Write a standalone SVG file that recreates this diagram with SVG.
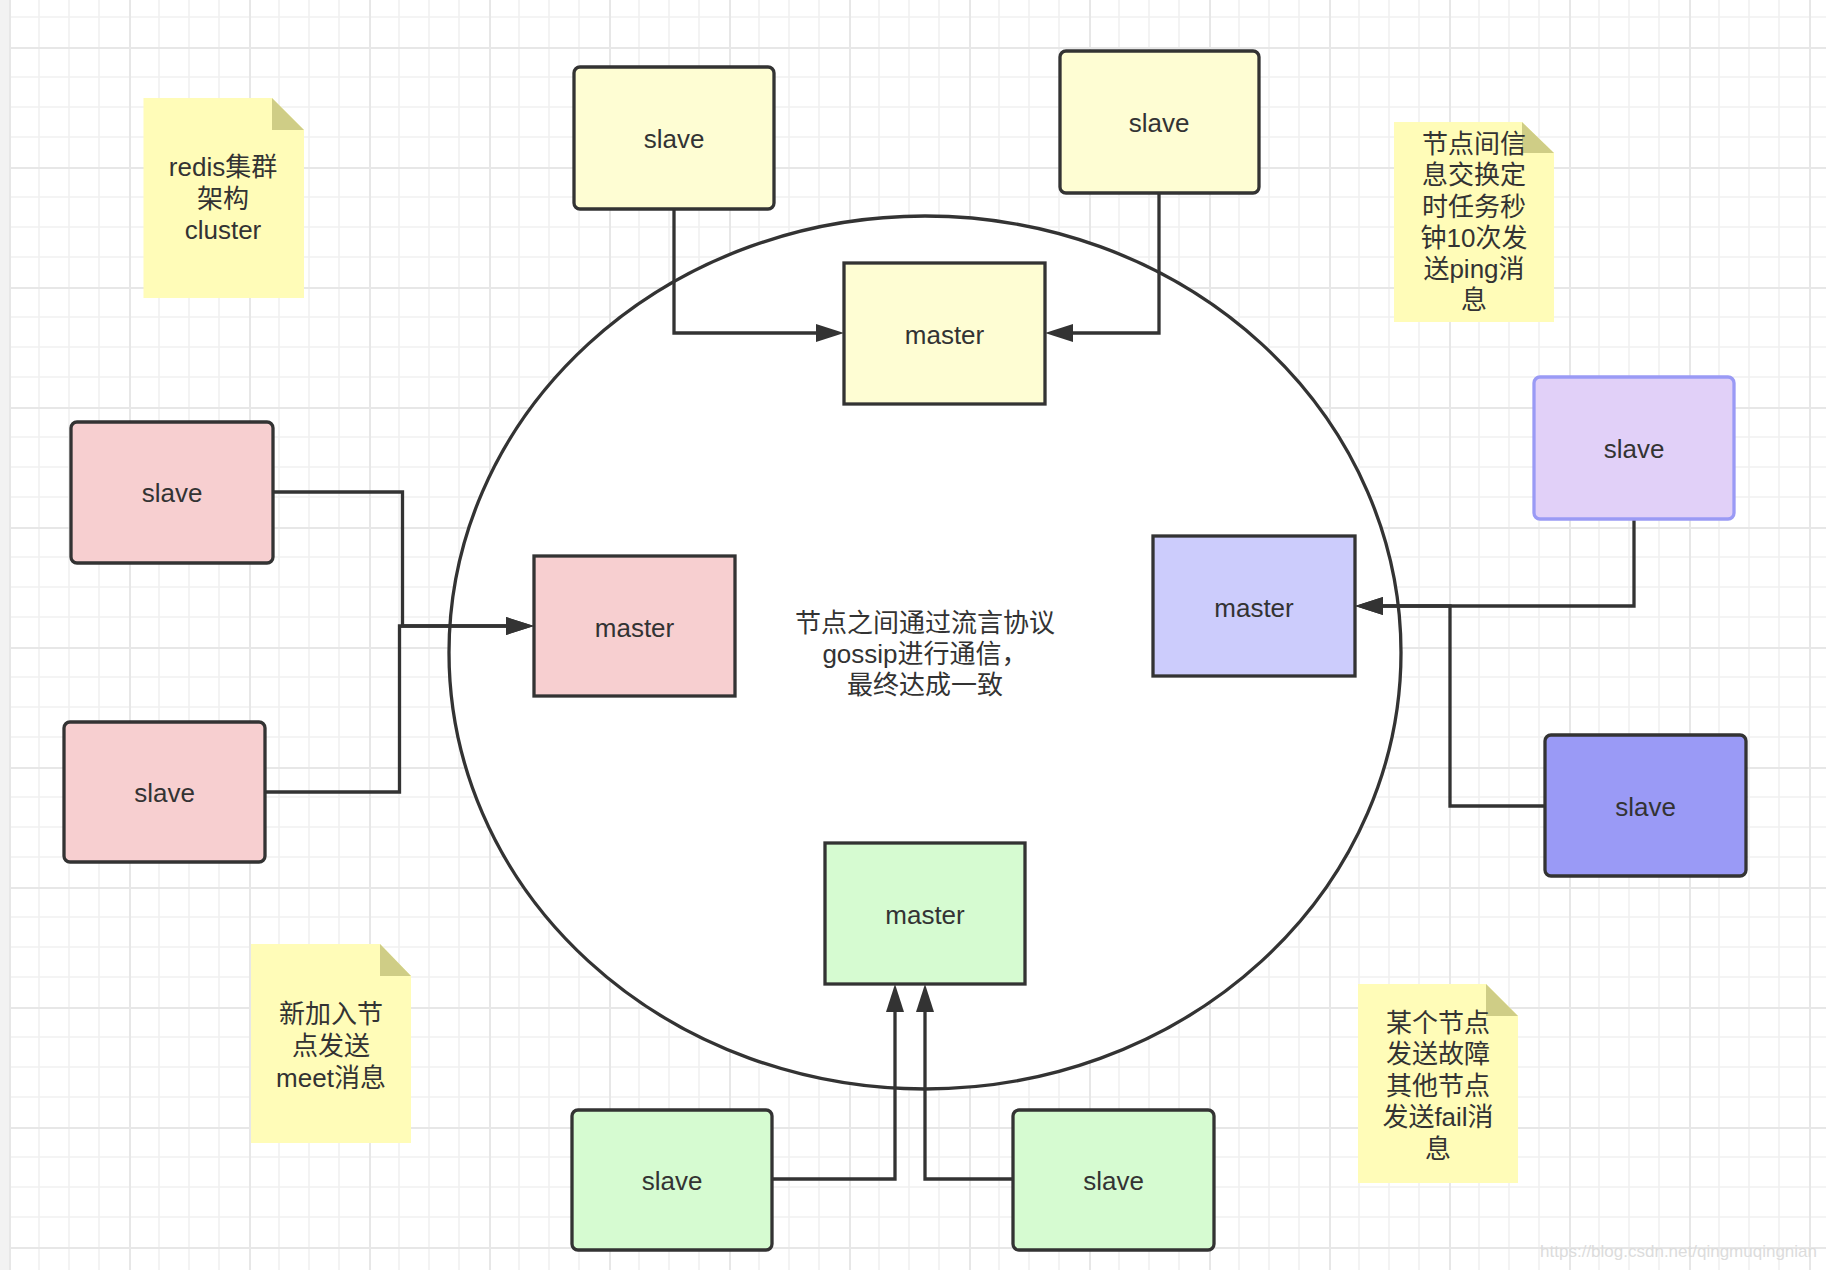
<svg xmlns="http://www.w3.org/2000/svg" width="1826" height="1270" viewBox="0 0 1826 1270">
<defs>
<pattern id="grid" patternUnits="userSpaceOnUse" x="9" y="47" width="120" height="120">
<rect width="120" height="120" fill="#ffffff"/>
<path d="M30,0V120M60,0V120M90,0V120M0,30H120M0,60H120M0,90H120" stroke="#f1f1f1" stroke-width="1.6" fill="none"/>
<path d="M1,0V120M0,1H120" stroke="#e7e7e7" stroke-width="2" fill="none"/>
</pattern>
<marker id="arr" markerUnits="userSpaceOnUse" markerWidth="28" markerHeight="18" refX="0" refY="9" orient="auto" viewBox="0 0 28 18">
<path d="M0,0L28,9L0,18z" fill="#333333"/>
</marker>
<style>
.t{font-family:"Liberation Sans","Noto Sans CJK SC",sans-serif;font-size:26px;fill:#333333;text-anchor:middle}
.box{stroke:#333333;stroke-width:3.3}
.note{fill:#fffcb8}
.fold{fill:#cfcd86}
.c{fill:none;stroke:#333333;stroke-width:3.3}
</style>
</defs>
<rect width="1826" height="1270" fill="url(#grid)"/>
<rect x="0" y="0" width="9" height="1270" fill="#f2f2f2"/>

<ellipse id="cluster-ring" cx="925" cy="652.5" rx="476" ry="436.5" fill="#ffffff" stroke="#333333" stroke-width="3.3"/>

<g id="note-cluster">
<path class="note" d="M143.5,98H272L304,130V298H143.5z"/>
<path class="fold" d="M272,98L304,130H272z"/>
<text class="t" x="223" y="176">redis集群</text>
<text class="t" x="223" y="208">架构</text>
<text class="t" x="223" y="239">cluster</text>
</g>

<g id="note-ping">
<path class="note" d="M1394,122H1522L1554,153V322H1394z"/>
<path class="fold" d="M1522,122L1554,153H1522z"/>
<text class="t" x="1474" y="153">节点间信</text>
<text class="t" x="1474" y="184">息交换定</text>
<text class="t" x="1474" y="216">时任务秒</text>
<text class="t" x="1474" y="247">钟10次发</text>
<text class="t" x="1474" y="278">送ping消</text>
<text class="t" x="1474" y="309">息</text>
</g>

<g id="note-meet">
<path class="note" d="M251,944H380L411,976V1143H251z"/>
<path class="fold" d="M380,944L411,976H380z"/>
<text class="t" x="331" y="1023">新加入节</text>
<text class="t" x="331" y="1055">点发送</text>
<text class="t" x="331" y="1087">meet消息</text>
</g>

<g id="note-fail">
<path class="note" d="M1358,984H1486L1518,1016V1183H1358z"/>
<path class="fold" d="M1486,984L1518,1016H1486z"/>
<text class="t" x="1438" y="1032">某个节点</text>
<text class="t" x="1438" y="1063">发送故障</text>
<text class="t" x="1438" y="1095">其他节点</text>
<text class="t" x="1438" y="1126">发送fail消</text>
<text class="t" x="1438" y="1158">息</text>
</g>

<g id="gossip-label">
<text class="t" x="925" y="632">节点之间通过流言协议</text>
<text class="t" x="925" y="663">gossip进行通信，</text>
<text class="t" x="925" y="694">最终达成一致</text>
</g>

<g id="connectors">
<path class="c" d="M674,209V333H816" marker-end="url(#arr)"/>
<path class="c" d="M1159,193V333H1073" marker-end="url(#arr)"/>
<path class="c" d="M273,492H402.5V626H506" marker-end="url(#arr)"/>
<path class="c" d="M265,792H399.5V626H506" marker-end="url(#arr)"/>
<path class="c" d="M1634,519V606H1383" marker-end="url(#arr)"/>
<path class="c" d="M1545,806H1450V606H1383" marker-end="url(#arr)"/>
<path class="c" d="M772,1179H895V1012" marker-end="url(#arr)"/>
<path class="c" d="M1013,1179H925V1012" marker-end="url(#arr)"/>
</g>

<g id="slave-y1"><rect class="box" x="574" y="67" width="200" height="142" rx="6" fill="#fefdd3"/><text class="t" x="674" y="148">slave</text></g>
<g id="slave-y2"><rect class="box" x="1060" y="51" width="199" height="142" rx="6" fill="#fefdd3"/><text class="t" x="1159" y="132">slave</text></g>
<g id="master-y"><rect class="box" x="844" y="263" width="201" height="141" fill="#fefdd3"/><text class="t" x="944.5" y="344">master</text></g>

<g id="slave-p1"><rect class="box" x="71" y="422" width="202" height="141" rx="6" fill="#f7cfd0"/><text class="t" x="172" y="502">slave</text></g>
<g id="slave-p2"><rect class="box" x="64" y="722" width="201" height="140" rx="6" fill="#f7cfd0"/><text class="t" x="164.5" y="802">slave</text></g>
<g id="master-p"><rect class="box" x="534" y="556" width="201" height="140" fill="#f7cfd0"/><text class="t" x="634.5" y="637">master</text></g>

<g id="master-b"><rect class="box" x="1153" y="536" width="202" height="140" fill="#ccccfc"/><text class="t" x="1254" y="617">master</text></g>
<g id="slave-b1"><rect x="1534" y="377" width="200" height="142" rx="6" fill="#e1d0f8" stroke="#9a9af5" stroke-width="3.3"/><text class="t" x="1634" y="458">slave</text></g>
<g id="slave-b2"><rect class="box" x="1545" y="735" width="201" height="141" rx="6" fill="#9a9af6"/><text class="t" x="1645.5" y="816">slave</text></g>

<g id="master-g"><rect class="box" x="825" y="843" width="200" height="141" fill="#d6fbd1"/><text class="t" x="925" y="924">master</text></g>
<g id="slave-g1"><rect class="box" x="572" y="1110" width="200" height="140" rx="6" fill="#d6fbd1"/><text class="t" x="672" y="1190">slave</text></g>
<g id="slave-g2"><rect class="box" x="1013" y="1110" width="201" height="140" rx="6" fill="#d6fbd1"/><text class="t" x="1113.5" y="1190">slave</text></g>

<text x="1817" y="1257" font-family="Liberation Sans, sans-serif" font-size="17" fill="#dcdcdc" text-anchor="end">https://blog.csdn.net/qingmuqingnian</text>
</svg>
